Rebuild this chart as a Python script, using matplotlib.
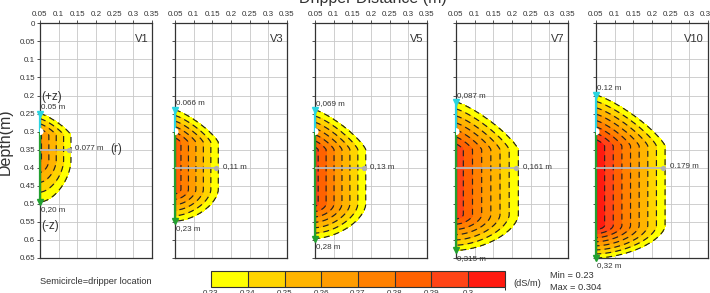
import numpy as np
import matplotlib
matplotlib.use('Agg')
import matplotlib.pyplot as plt
from matplotlib.colors import ListedColormap, BoundaryNorm
import matplotlib.cm as cm

plt.rcParams['font.family'] = ['Liberation Sans', 'DejaVu Sans']
plt.rcParams['lines.dashed_pattern'] = [5, 3.5]

# ---------------- data ----------------
panels = ['V1', 'V3', 'V5', 'V7', 'V10']
dripper_depth = 0.30
top_depth = [0.25, 0.24, 0.24, 0.218, 0.199]
bottom_depth = [0.495, 0.548, 0.596, 0.629, 0.65]
radius = [0.077, 0.11, 0.13, 0.161, 0.179]
radius_depth = [0.35, 0.40, 0.40, 0.40, 0.40]
band_top = [0.31, 0.33, 0.35, 0.35, 0.34]
band_bottom = [0.38, 0.46, 0.50, 0.53, 0.56]
peak_ec = [0.272, 0.288, 0.294, 0.298, 0.31]
up_labels = ['0.05 m', '0.066 m', '0,069 m', '0,087 m', '0.12 m']
down_labels = ['0,20 m', '0,23 m', '0,28 m', '0,315 m', '0,32 m']
r_labels = ['0.077 m', '0,11 m', '0,13 m', '0,161 m', '0.179 m']
ec_levels = [0.23, 0.24, 0.25, 0.26, 0.27, 0.28, 0.29, 0.30, 0.31]
ec_colors = ['#ffff00', '#ffd400', '#ffb400', '#ff9c00', '#ff8000',
             '#ff6200', '#ff4416', '#ff1a10']
ec_tick_labels = ['0.23', '0.24', '0.25', '0.26', '0.27', '0.28', '0.29', '0.3']
x_ticks = [0.05, 0.1, 0.15, 0.2, 0.25, 0.3, 0.35]
x_tick_labels = ['0.05', '0.1', '0.15', '0.2', '0.25', '0.3', '0.35']
y_ticks = [0, 0.05, 0.1, 0.15, 0.2, 0.25, 0.3, 0.35, 0.4, 0.45, 0.5, 0.55, 0.6, 0.65]
y_tick_labels = ['0', '0.05', '0.1', '0.15', '0.2', '0.25', '0.3', '0.35', '0.4',
                 '0.45', '0.5', '0.55', '0.6', '0.65']

W, H = 710, 293
fig = plt.figure(figsize=(W / 100, H / 100), dpi=100)
fig.patch.set_facecolor('white')

lefts = [40, 175, 315, 456, 596]
ax_w, ax_top, ax_bot = 112, 23.3, 258

xg = np.linspace(0.05, 0.35, 400)
zg = np.linspace(0.0, 0.65, 600)
X, Z = np.meshgrid(xg, zg)


def field(i):
    u = (X - 0.05) / (radius[i] + 0.006)
    a_up = band_top[i] - top_depth[i]
    a_dn = bottom_depth[i] - band_bottom[i]
    v_up = np.clip((band_top[i] - Z) / a_up, 0, None)
    v_dn = np.clip((Z - band_bottom[i]) / a_dn, 0, None)
    p1, p2 = 1.25, 1.7
    d_up = (u ** p1 + v_up ** p1) ** (1 / p1)
    d_dn = (u ** p2 + v_dn ** p2) ** (1 / p2)
    d = np.where(Z < band_top[i], d_up, np.where(Z > band_bottom[i], d_dn, u))
    return ec_levels[0] + (peak_ec[i] - ec_levels[0]) * (1 - d)


tc = '#333333'
fs = 5.8
for i, name in enumerate(panels):
    ax = fig.add_axes([lefts[i] / W, 1 - ax_bot / H, ax_w / W, (ax_bot - ax_top) / H])
    V = field(i)
    ax.contourf(X, Z, V, levels=ec_levels, colors=ec_colors, zorder=2)
    ax.contour(X, Z, V, levels=ec_levels[:-1], colors='#222222', linewidths=0.85,
               linestyles='dashed', zorder=3)
    ax.set_xlim(0.05, 0.35)
    ax.set_ylim(0.65, 0)
    ax.set_xticks(x_ticks)
    ax.set_xticklabels(x_tick_labels)
    ax.set_yticks(y_ticks)
    if i == 0:
        ax.set_yticklabels(y_tick_labels)
    else:
        ax.set_yticklabels([])
    ax.xaxis.tick_top()
    ax.tick_params(labelsize=fs, length=2.5, width=0.6, pad=1, colors=tc,
                   labelcolor=tc)
    ax.grid(True, color='#c8c8c8', lw=0.6, zorder=0)
    ax.set_axisbelow(True)
    for s in ax.spines.values():
        s.set_color('#333333')
        s.set_linewidth(0.9)

    # left edge wetting lines
    ax.plot([0.05, 0.05], [top_depth[i], dripper_depth], color='#2ad4e0', lw=1.6,
            clip_on=False, zorder=5, solid_capstyle='butt')
    ax.plot([0.05, 0.05], [dripper_depth, bottom_depth[i]], color='#22a030', lw=1.6,
            clip_on=False, zorder=5, solid_capstyle='butt')
    ax.plot([0.05], [top_depth[i]], marker='v', ms=4, color='#2ad4e0', clip_on=False,
            zorder=6)
    ax.plot([0.05], [bottom_depth[i]], marker='v', ms=4, color='#22a030', clip_on=False,
            zorder=6)
    # dripper semicircle
    ax.scatter([0.05], [dripper_depth], s=26, color='white', zorder=7, clip_on=True,
               edgecolors='none')
    # radius arrow
    ax.plot([0.05, 0.05 + radius[i]], [radius_depth[i], radius_depth[i]],
            color='#b8b8b8', lw=1.3, zorder=6)
    ax.plot([0.05 + radius[i]], [radius_depth[i]], marker='o', ms=2.8,
            color='#b0b0b0', zorder=6)
    ax.text(0.05 + radius[i] + 0.018, radius_depth[i] - 0.003, r_labels[i],
            fontsize=fs, color=tc, va='center', ha='left', zorder=8)
    ax.text(0.053, top_depth[i] - 0.008, up_labels[i], fontsize=fs, color=tc,
            va='bottom', ha='left', zorder=8)
    ax.text(0.053, bottom_depth[i] + 0.012, down_labels[i], fontsize=fs, color=tc,
            va='top', ha='left', zorder=8, clip_on=False)
    ax.text(0.965, 0.955, name, transform=ax.transAxes, fontsize=8, color=tc,
            ha='right', va='top')
    if i == 0:
        ax.text(0.053, 0.205, '(+z)', fontsize=8.5, color=tc, va='center', ha='left')
        ax.text(0.053, 0.56, '(-z)', fontsize=8.5, color=tc, va='center', ha='left')
        ax.text(0.237, radius_depth[i] - 0.003, '(r)', fontsize=8.5,
                color=tc, va='center', ha='left')

# axis titles
fig.text(373 / W, 1 - 2.5 / H, 'Dripper Distance (m)', fontsize=11.5, color=tc,
         ha='center', va='baseline')
fig.text(5 / W, 1 - 142 / H, 'Depth(m)', fontsize=11.5, color=tc, rotation=90,
         ha='center', va='center')

# colorbar
cax = fig.add_axes([211 / W, 1 - 287.3 / H, 294 / W, 16.6 / H])
cmap = ListedColormap(ec_colors)
norm = BoundaryNorm(ec_levels, cmap.N)
cb = fig.colorbar(cm.ScalarMappable(norm=norm, cmap=cmap), cax=cax,
                  orientation='horizontal', drawedges=True)
cb.set_ticks(ec_levels[:-1])
cb.set_ticklabels(ec_tick_labels)
cb.ax.tick_params(labelsize=fs, length=0, pad=2, labelcolor=tc)
cb.outline.set_edgecolor('#333333')
cb.outline.set_linewidth(0.8)
cb.dividers.set_color('#333333')
cb.dividers.set_linewidth(0.8)

fig.text(40 / W, 1 - 281 / H, 'Semicircle=dripper location', fontsize=6.7, color=tc,
         ha='left', va='center')
fig.text(513 / W, 1 - 283 / H, '(dS/m)', fontsize=6.7, color=tc, ha='left', va='center')
fig.text(550 / W, 1 - 275 / H, 'Min = 0.23', fontsize=6.7, color=tc, ha='left',
         va='center')
fig.text(550 / W, 1 - 287.5 / H, 'Max = 0.304', fontsize=6.7, color=tc, ha='left',
         va='center')

fig.savefig('out.png', dpi=100, facecolor='white')
